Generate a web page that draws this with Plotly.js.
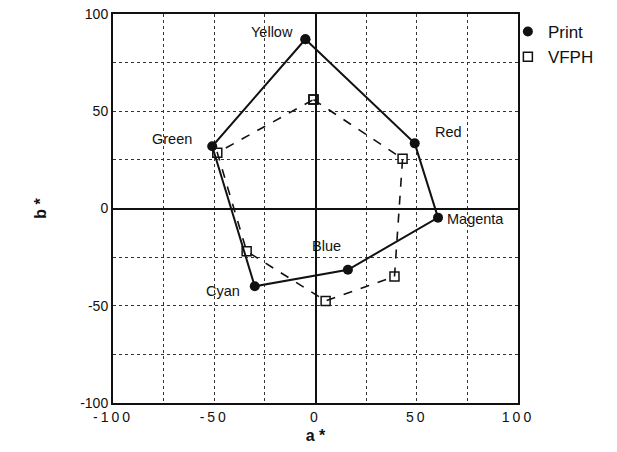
<!DOCTYPE html>
<html>
<head>
<meta charset="utf-8">
<script src="https://cdn.plot.ly/plotly-3.0.1.min.js"></script>
<style>
body{margin:0;background:#fff;}
#chart{width:617px;height:452px;}
.xtick text{letter-spacing:3px;}
</style>
</head>
<body>
<div id="chart"></div>
<script>
const colorNames = ["Yellow", "Red", "Magenta", "Blue", "Cyan", "Green"];
const printA = [-5, 49, 60.5, 16, -30, -51, -5];
const printB = [87, 33.5, -4.7, -31.5, -40, 32, 87];
const vfphA = [-1, 43, 39, 5, -34, -48.5, -1];
const vfphB = [56, 25.6, -35, -47.5, -22, 28.7, 56];
const tickVals = [-100, -50, 0, 50, 100];
const tickText = ["-100", "-50", "0", "50", "100"];
const labelA = [-21.5, 65.5, 79, 5.5, -45.5, -71];
const labelB = [90.5, 39.5, -5.5, -19.5, -42.5, 35.5];

const font = "Liberation Sans, Arial, Helvetica, sans-serif";

const traces = [
  {
    x: printA, y: printB, name: "Print", type: "scatter", mode: "lines+markers",
    showlegend: false,
    line: {color: "#111", width: 2},
    marker: {symbol: "circle", size: 10, color: "#111"}
  },
  {
    x: vfphA, y: vfphB, name: "VFPH", type: "scatter", mode: "lines+markers",
    showlegend: false,
    line: {color: "#111", width: 1.6, dash: "dash"},
    marker: {symbol: "square-open", size: 9, color: "#111", line: {width: 1.5, color: "#111"}}
  },
  {
    x: [null], y: [null], name: "Print", type: "scatter", mode: "markers",
    marker: {symbol: "circle", size: 10, color: "#111"}
  },
  {
    x: [null], y: [null], name: "VFPH", type: "scatter", mode: "markers",
    marker: {symbol: "square-open", size: 9, color: "#111", line: {width: 1.5, color: "#111"}}
  }
];

const annotations = colorNames.map((n, i) => ({
  x: labelA[i], y: labelB[i], text: n, showarrow: false,
  xref: "x", yref: "y", font: {family: font, size: 14.5, color: "#111"}
}));

const gridStyle = {gridcolor: "#333", griddash: "dot", gridwidth: 1};

const layout = {
  width: 617, height: 452,
  margin: {l: 113, r: 99, t: 14, b: 49, autoexpand: false},
  paper_bgcolor: "#fff", plot_bgcolor: "#fff",
  showlegend: true,
  legend: {x: 0.975, y: 1.0, xanchor: "left", yanchor: "top",
    font: {family: font, size: 17, color: "#111"}, bgcolor: "rgba(0,0,0,0)",
    itemwidth: 30, tracegroupgap: 0},
  xaxis: Object.assign({
    range: [-100, 100], tickmode: "array",
    tickvals: tickVals, ticktext: tickText,
    showgrid: true,
    zeroline: true, zerolinecolor: "#111", zerolinewidth: 2,
    showline: true, linecolor: "#111", linewidth: 2, mirror: true,
    ticks: "", tickfont: {family: font, size: 14, color: "#111"},
    title: {text: "<b>a *</b>", font: {family: font, size: 16, color: "#111"}, standoff: 6},
    minor: Object.assign({dtick: 25, tick0: 0, showgrid: true}, gridStyle)
  }, gridStyle),
  yaxis: Object.assign({
    range: [-100, 100], tickmode: "array",
    tickvals: tickVals, ticktext: tickText,
    showgrid: true,
    zeroline: true, zerolinecolor: "#111", zerolinewidth: 2,
    showline: true, linecolor: "#111", linewidth: 2, mirror: true,
    ticks: "", tickfont: {family: font, size: 14, color: "#111"},
    title: {text: "<b>b *</b>", font: {family: font, size: 16, color: "#111"}, standoff: 30},
    minor: Object.assign({dtick: 25, tick0: 0, showgrid: true}, gridStyle)
  }, gridStyle),
  annotations: annotations
};

Plotly.newPlot("chart", traces, layout, {displayModeBar: false, staticPlot: true});
</script>
</body>
</html>
